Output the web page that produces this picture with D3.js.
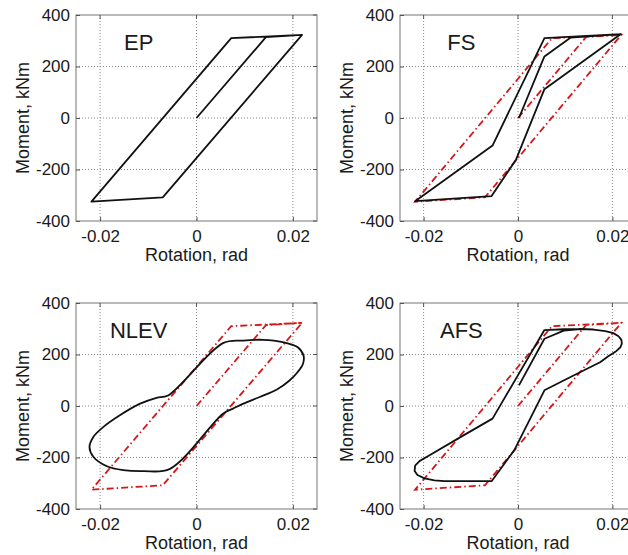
<!DOCTYPE html>
<html>
<head>
<meta charset="utf-8">
<script src="https://cdnjs.cloudflare.com/ajax/libs/d3/7.8.5/d3.min.js"></script>
<style>
    body { margin: 0; background: #fff; }
    text { font-family: "Liberation Sans", Arial, sans-serif; fill: #1a1a1a; }
</style>
</head>
<body>
<script>
var xTicks = [-0.02, 0, 0.02];
var yTicks = [-400, -200, 0, 200, 400];
var xTickLabels = ["-0.02", "0", "0.02"];
var yTickLabels = ["-400", "-200", "0", "200", "400"];
var panelNames = ["EP", "FS", "NLEV", "AFS"];

// elastic-perfectly-plastic loop (also the red reference in the other panels)
var epRot = [0, 0.0144, 0.0219, -0.0070, -0.0218, 0.0072, 0.0219];
var epMom = [0, 314, 323, -308, -325, 310, 323];

var fsRot = [0.0002, 0.0056, 0.0111, 0.0218, 0.0056, -0.0004, -0.0056, -0.0218, -0.0054, 0.0056, 0.0218];
var fsMom = [0, 239, 312, 326, 112, -161, -303, -323, -107, 310, 326];

var nlevRot = [-0.0059, 0.0055, 0.0097, 0.0138, 0.0179, 0.0210, 0.0222, 0.0221, 0.0210, 0.0193, 0.0166, 0.0131, 0.0097, 0.0076, 0.0055,
               -0.0055, -0.0110, -0.0152, -0.0186, -0.0214, -0.0222, -0.0214, -0.0193, -0.0159, -0.0117, -0.0083];
var nlevMom = [41, 244, 254, 257, 248, 228, 196, 164, 132, 99, 63, 35, 9, -10, -30,
               -244, -253, -249, -234, -197, -159, -120, -81, -36, 9, 32];

var afsRot = [0.0002, 0.0056, 0.0097, 0.0132, 0.0160, 0.0185, 0.0202, 0.0213, 0.0219, 0.0220, 0.0217, 0.0208, 0.0192, 0.0174, 0.0142, 0.0104, 0.0056,
              -0.0008, -0.0056, -0.0156, -0.0177, -0.0198, -0.0213, -0.0219, -0.0218, -0.0208, -0.0191, -0.0121, -0.0054,
              0.0056, 0.0097, 0.0132];
var afsMom = [80, 261, 293, 299, 297, 291, 283, 271, 257, 242, 228, 213, 194, 170, 141, 106, 61,
              -172, -292, -292, -289, -281, -268, -252, -232, -213, -195, -120, -49,
              295, 298, 299];

function pts(xs, ys){
    return xs.map(function(d, i){ return [d, ys[i]]; });
}

window.onload = function(){

    var w = 628, h = 555;

    var svg = d3.select("body")
        .append("svg")
        .attr("width", w)
        .attr("height", h);

    var boxes = [
        {left: 76, top: 15, width: 241, height: 206},
        {left: 400, top: 15, width: 236, height: 206},
        {left: 76, top: 303, width: 241, height: 206},
        {left: 400, top: 303, width: 236, height: 206}
    ];

    var black = [
        {data: pts(epRot, epMom), curve: d3.curveLinear},
        {data: pts(fsRot, fsMom), curve: d3.curveLinear},
        {data: pts(nlevRot, nlevMom), curve: d3.curveCatmullRomClosed.alpha(0.5)},
        {data: pts(afsRot, afsMom), curve: d3.curveLinear}
    ];

    boxes.forEach(function(b, k){

        var x = d3.scaleLinear()
            .domain([-0.025, 0.025])
            .range([0, b.width]);

        var y = d3.scaleLinear()
            .domain([-400, 400])
            .range([b.height, 0]);

        var g = svg.append("g")
            .attr("transform", "translate(" + b.left + "," + b.top + ")");

        // dotted grid
        g.selectAll(".vgrid")
            .data(xTicks)
            .enter()
            .append("line")
            .attr("x1", function(d){ return x(d); })
            .attr("x2", function(d){ return x(d); })
            .attr("y1", 0)
            .attr("y2", b.height)
            .style("stroke", "#8a8a8a")
            .style("stroke-width", 1)
            .style("stroke-dasharray", "1,2");

        g.selectAll(".hgrid")
            .data(yTicks.slice(1, -1))
            .enter()
            .append("line")
            .attr("x1", 0)
            .attr("x2", b.width)
            .attr("y1", function(d){ return y(d); })
            .attr("y2", function(d){ return y(d); })
            .style("stroke", "#8a8a8a")
            .style("stroke-width", 1)
            .style("stroke-dasharray", "1,2");

        var line = d3.line()
            .x(function(d){ return x(d[0]); })
            .y(function(d){ return y(d[1]); });

        if (k > 0) {
            g.append("path")
                .datum(pts(epRot, epMom))
                .attr("d", line)
                .style("fill", "none")
                .style("stroke", "#d41818")
                .style("stroke-width", 1.8)
                .style("stroke-dasharray", "7,3,1.5,3");
        }

        g.append("path")
            .datum(black[k].data)
            .attr("d", line.curve(black[k].curve))
            .style("fill", "none")
            .style("stroke", "#111")
            .style("stroke-width", 1.8)
            .style("stroke-linejoin", "round");

        // axes box
        g.append("rect")
            .attr("width", b.width)
            .attr("height", b.height)
            .style("fill", "none")
            .style("stroke", "#8c8c8c")
            .style("stroke-width", 1.2);

        var xAxis = d3.axisBottom(x)
            .tickValues(xTicks)
            .tickSize(-4)
            .tickFormat(function(d, i){ return xTickLabels[i]; })
            .tickPadding(9);

        var yAxis = d3.axisLeft(y)
            .tickValues(yTicks)
            .tickSize(-4)
            .tickFormat(function(d, i){ return yTickLabels[i]; })
            .tickPadding(6);

        var ax = g.append("g")
            .attr("transform", "translate(0," + b.height + ")")
            .call(xAxis);

        var ay = g.append("g")
            .call(yAxis);

        [ax, ay].forEach(function(a){
            a.select(".domain").remove();
            a.selectAll("line").style("stroke", "#555");
            a.selectAll("text")
                .style("font-size", "17px")
                .style("font-family", "'Liberation Sans', Arial, sans-serif")
                .style("fill", "#1a1a1a");
        });

        // top and right tick marks
        g.selectAll(".ttick")
            .data(xTicks)
            .enter()
            .append("line")
            .attr("x1", function(d){ return x(d); })
            .attr("x2", function(d){ return x(d); })
            .attr("y1", 0)
            .attr("y2", 4)
            .style("stroke", "#555");

        g.selectAll(".rtick")
            .data(yTicks)
            .enter()
            .append("line")
            .attr("x1", b.width)
            .attr("x2", b.width - 4)
            .attr("y1", function(d){ return y(d); })
            .attr("y2", function(d){ return y(d); })
            .style("stroke", "#555");

        g.append("text")
            .attr("text-anchor", "middle")
            .attr("x", x(0))
            .attr("y", b.height + 40)
            .style("font-size", "18px")
            .text("Rotation, rad");

        g.append("text")
            .attr("text-anchor", "middle")
            .attr("transform", "translate(-47," + y(0) + ") rotate(-90)")
            .style("font-size", "18px")
            .text("Moment, kNm");

        g.append("text")
            .attr("text-anchor", "middle")
            .attr("x", x(-0.012))
            .attr("y", y(265))
            .style("font-size", "22px")
            .text(panelNames[k]);
    });
};
</script>
</body>
</html>
